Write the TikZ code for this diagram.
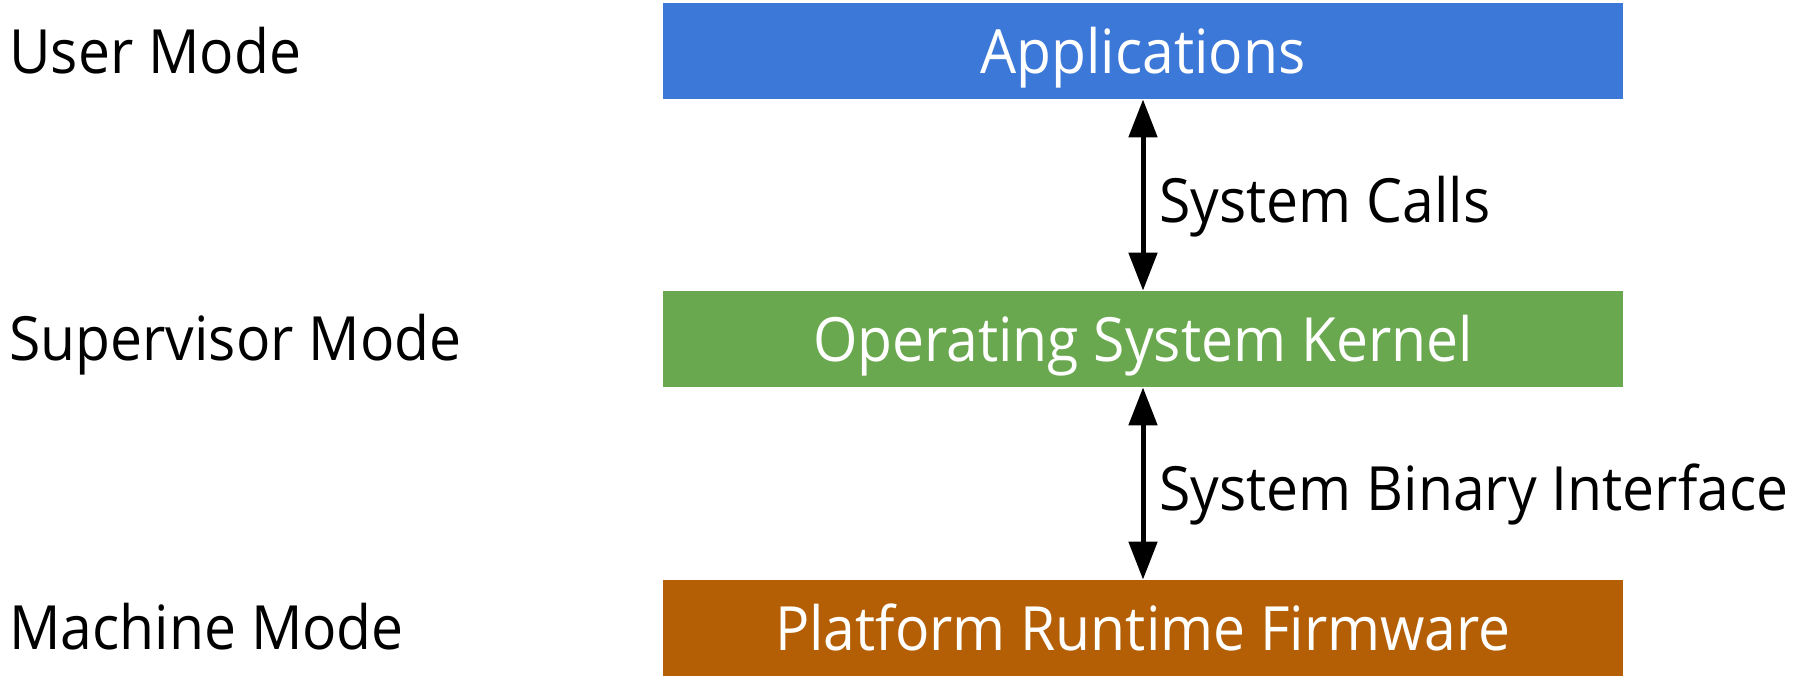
\documentclass[tikz,border=0pt]{standalone}
\usepackage{fontspec}
\setmainfont{Open Sans}[FakeStretch=0.935]
\usetikzlibrary{arrows.meta}
\definecolor{appblue}{HTML}{3C78D8}
\definecolor{osgreen}{HTML}{6AA84F}
\definecolor{fworange}{HTML}{B45F06}
\tikzset{
  layer/.style={inner sep=0pt, minimum width=480pt, minimum height=48pt, text=white,
    font=\fontsize{30.5pt}{36pt}\selectfont, text height=22pt, text depth=0pt},
  modelabel/.style={inner sep=0pt, anchor=base west, font=\fontsize{30.5pt}{36pt}\selectfont},
  iface/.style={line width=2.5pt, {Triangle[length=19pt,width=14pt]}-{Triangle[length=19pt,width=14pt]}},
  ifacelabel/.style={inner sep=0pt, anchor=west, xshift=7pt, yshift=-2.5pt,
    font=\fontsize{30.5pt}{36pt}\selectfont, text height=22pt, text depth=0pt}
}
\begin{document}
\begin{tikzpicture}[x=0.5pt,y=-0.5pt]
\useasboundingbox (0,0) rectangle (1796,676);
\node[layer, fill=appblue] (app) at (1143,51) {Applications};
\node[layer, fill=osgreen] (os) at (1143,339) {Operating System Kernel};
\node[layer, fill=fworange] (fw) at (1143,628) {Platform Runtime Firmware};
\node[modelabel] (um) at (9,73) {User Mode};
\node[modelabel] (sm) at (9,360) {Supervisor Mode};
\node[modelabel] (mm) at (9,649) {Machine Mode};
\draw[iface] (app.south) -- node[ifacelabel] (sc) {System Calls} (os.north);
\draw[iface] (os.south) -- node[ifacelabel] (sbi) {System Binary Interface} (fw.north);
\end{tikzpicture}
\end{document}
